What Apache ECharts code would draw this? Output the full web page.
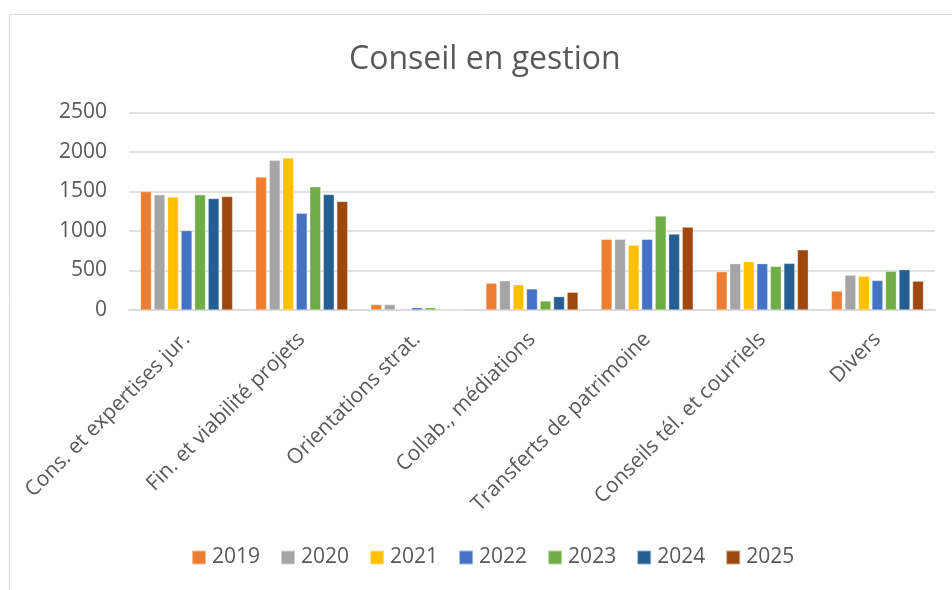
<!DOCTYPE html>
<html>
<head>
<meta charset="utf-8">
<script src="https://cdn.jsdelivr.net/npm/echarts@6/dist/echarts.min.js"></script>
<style>
html,body{margin:0;padding:0;background:#fff;}
#chart{width:952px;height:590px;}
</style>
</head>
<body>
<div id="chart"></div>
<script>
const categories = ["Cons. et expertises jur.", "Fin. et viabilité projets", "Orientations strat.", "Collab., médiations", "Transferts de patrimoine", "Conseils tél. et courriels", "Divers"];
const years = ["2019", "2020", "2021", "2022", "2023", "2024", "2025"];
const v2019 = [1500, 1685, 70, 340, 895, 485, 240];
const v2020 = [1460, 1895, 70, 370, 895, 587, 442];
const v2021 = [1430, 1925, 15, 320, 820, 613, 430];
const v2022 = [1005, 1225, 30, 268, 895, 587, 375];
const v2023 = [1460, 1560, 30, 115, 1190, 553, 490];
const v2024 = [1412, 1463, 0, 170, 962, 591, 511];
const v2025 = [1438, 1375, 8, 225, 1050, 762, 366];
const yTicks = [0, 500, 1000, 1500, 2000, 2500];
const colors = ["#ED7D31", "#A5A5A5", "#FFC000", "#4472C4", "#70AD47", "#255E91", "#9E480E"];

const seriesValues = [v2019, v2020, v2021, v2022, v2023, v2024, v2025];
const FONT = "'Open Sans', 'Noto Sans', sans-serif";
const TXT = "#595959";

const chart = echarts.init(document.getElementById('chart'), null, {renderer: 'canvas'});
chart.setOption({
  animation: false,
  backgroundColor: '#fff',
  color: colors,
  graphic: [{
    type: 'rect',
    shape: {x: 9.5, y: 14.5, width: 1000, height: 1000},
    style: {fill: 'none', stroke: '#d9d9d9', lineWidth: 1},
    silent: true
  }],
  title: {
    text: 'Conseil en gestion',
    left: 349,
    top: 44,
    padding: 0,
    textStyle: {fontFamily: FONT, fontSize: 32, fontWeight: 'normal', color: TXT}
  },
  legend: {
    bottom: 17,
    left: 186,
    icon: 'rect',
    itemWidth: 14,
    itemHeight: 14,
    itemGap: 20,
    textStyle: {fontFamily: FONT, fontSize: 21, color: TXT, padding: [0, 0, 0, 1]},
    data: years
  },
  grid: {left: 129, right: 17, top: 112.5, bottom: 280, containLabel: false},
  xAxis: {
    type: 'category',
    data: categories,
    axisLine: {show: true, lineStyle: {color: '#d9d9d9', width: 1.5}},
    axisTick: {show: false},
    axisLabel: {rotate: 45, margin: 26, interval: 0, fontFamily: FONT, fontSize: 21, color: TXT}
  },
  yAxis: {
    type: 'value',
    min: yTicks[0],
    max: yTicks[yTicks.length - 1],
    interval: 500,
    axisLine: {show: false},
    axisTick: {show: false},
    splitLine: {lineStyle: {color: '#d9d9d9', width: 1.5}},
    axisLabel: {margin: 22, fontFamily: FONT, fontSize: 21, color: TXT, formatter: v => String(v)}
  },
  series: years.map((y, i) => ({
    name: y,
    type: 'bar',
    data: seriesValues[i],
    barWidth: 11,
    barGap: '23%',
    itemStyle: {color: colors[i], borderColor: 'rgba(255,255,255,0.5)', borderWidth: 0.6}
  }))
});
</script>
</body>
</html>
